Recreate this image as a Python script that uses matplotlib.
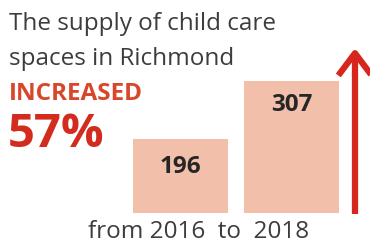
import matplotlib
matplotlib.use("Agg")
import matplotlib.pyplot as plt

years = ["2016", "2018"]
spaces = [196, 307]
title_lines = ["The supply of child care", "spaces in Richmond"]
change_word = "INCREASED"
change_pct = "57%"
footer = "from 2016  to  2018"

W, H = 370, 244
fig = plt.figure(figsize=(W / 100, H / 100), dpi=100)
fig.patch.set_facecolor("white")
plt.rcParams['font.family'] = ['Open Sans', 'DejaVu Sans']

def fx(px):
    return px / W

def fy(py):
    return 1 - py / H

# axes placed in pixel coords: x 120..350, y 40..213 (top-down)
ax = fig.add_axes([fx(120), fy(213), (350 - 120) / W, (213 - 40) / H])
ax.set_xlim(-0.545, 1.527)
ax.set_ylim(54, 386)
xpos = list(range(len(years)))
bars = ax.bar(xpos, spaces, width=0.85, color="#f2c0aa", edgecolor="none")
for x, v in zip(xpos, spaces):
    ax.text(x, v - 0.38 * (v - 54) if v < 250 else v - 46, str(v),
            ha="center", va="center", fontsize=17.5, fontweight="bold", color="#262626")
ax.axis("off")

# Arrow
ax.annotate("", xy=(355, H - 48), xytext=(355, H - 214), xycoords="figure pixels",
            textcoords="figure pixels",
            arrowprops=dict(arrowstyle="->,head_length=0.8,head_width=0.6",
                            lw=4.5, color="#d7261e", mutation_scale=20,
                            shrinkA=0, shrinkB=0, capstyle="butt"))

# Texts
fig.text(fx(9), fy(30), title_lines[0], fontsize=17.5, color="#3d3d3d", va="baseline")
fig.text(fx(9), fy(65), title_lines[1], fontsize=17.5, color="#3d3d3d", va="baseline")
fig.text(fx(9), fy(100), change_word, fontsize=17.5, fontweight="bold", color="#d9472b", va="baseline")
fig.text(fx(8), fy(147), change_pct, fontsize=34, fontweight="bold", color="#d42b1f", va="baseline")
fig.text(fx(88), fy(238), footer, fontsize=17.5, color="#3d3d3d", va="baseline")

fig.savefig("out.png", dpi=100)
